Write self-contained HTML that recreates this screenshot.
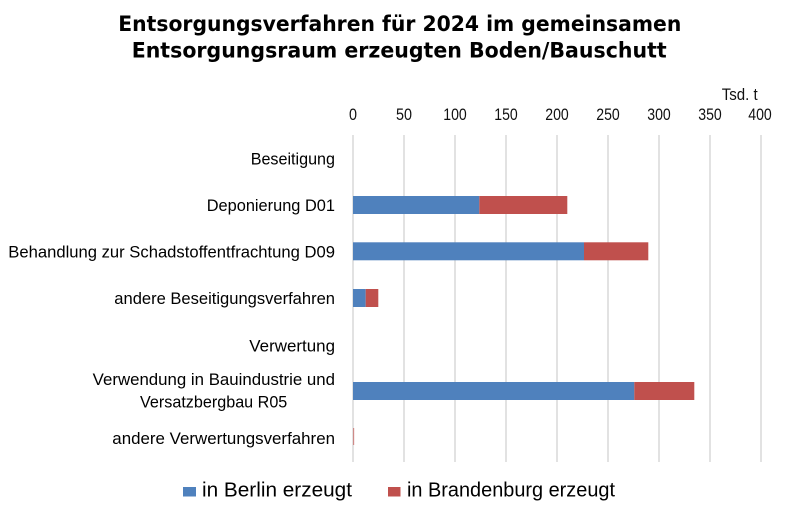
<!DOCTYPE html>
<html>
<head>
<meta charset="utf-8">
<style>
  html, body { margin:0; padding:0; background:#fff; }
  svg { display:block; }
</style>
</head>
<body>
<svg width="800" height="515" viewBox="0 0 800 515" xmlns="http://www.w3.org/2000/svg">
  <rect x="0" y="0" width="800" height="515" fill="#ffffff"/>

  <!-- Title -->
  <g font-family="'DejaVu Sans', 'Liberation Sans', sans-serif" font-weight="bold" font-size="21" fill="#000">
    <text x="118.3" y="31" textLength="563" lengthAdjust="spacingAndGlyphs">Entsorgungsverfahren für 2024 im gemeinsamen</text>
    <text x="131.7" y="57.7" textLength="535" lengthAdjust="spacingAndGlyphs">Entsorgungsraum erzeugten Boden/Bauschutt</text>
  </g>

  <!-- Gridlines -->
  <g stroke="#d9d9d9" stroke-width="1.5">
    <line x1="353" y1="135" x2="353" y2="462"/>
    <line x1="404" y1="135" x2="404" y2="462"/>
    <line x1="455" y1="135" x2="455" y2="462"/>
    <line x1="506" y1="135" x2="506" y2="462"/>
    <line x1="557" y1="135" x2="557" y2="462"/>
    <line x1="608" y1="135" x2="608" y2="462"/>
    <line x1="659" y1="135" x2="659" y2="462"/>
    <line x1="710" y1="135" x2="710" y2="462"/>
    <line x1="761" y1="135" x2="761" y2="462"/>
  </g>

  <!-- Tick labels -->
  <g font-family="'Liberation Sans', sans-serif" font-size="17" fill="#111" text-anchor="middle">
    <text x="353" y="120" textLength="8" lengthAdjust="spacingAndGlyphs">0</text>
    <text x="404" y="120" textLength="16" lengthAdjust="spacingAndGlyphs">50</text>
    <text x="455" y="120" textLength="23.5" lengthAdjust="spacingAndGlyphs">100</text>
    <text x="506" y="120" textLength="23.5" lengthAdjust="spacingAndGlyphs">150</text>
    <text x="557" y="120" textLength="23.5" lengthAdjust="spacingAndGlyphs">200</text>
    <text x="608" y="120" textLength="23.5" lengthAdjust="spacingAndGlyphs">250</text>
    <text x="659" y="120" textLength="23.5" lengthAdjust="spacingAndGlyphs">300</text>
    <text x="710" y="120" textLength="23.5" lengthAdjust="spacingAndGlyphs">350</text>
    <text x="760" y="120" textLength="23.5" lengthAdjust="spacingAndGlyphs">400</text>
  </g>
  <text x="721.7" y="100" font-family="'Liberation Sans', sans-serif" font-size="17" fill="#111" textLength="36" lengthAdjust="spacingAndGlyphs">Tsd. t</text>

  <!-- Category labels -->
  <g font-family="'Liberation Sans', sans-serif" font-size="16.5" fill="#000">
    <text x="250.7" y="164.3" textLength="84.3" lengthAdjust="spacingAndGlyphs">Beseitigung</text>
    <text x="206.7" y="211" textLength="128.3" lengthAdjust="spacingAndGlyphs">Deponierung D01</text>
    <text x="8.3" y="257.7" textLength="326.7" lengthAdjust="spacingAndGlyphs">Behandlung zur Schadstoffentfrachtung D09</text>
    <text x="114.3" y="304" textLength="220.7" lengthAdjust="spacingAndGlyphs">andere Beseitigungsverfahren</text>
    <text x="249.3" y="351.3" textLength="85.7" lengthAdjust="spacingAndGlyphs">Verwertung</text>
    <text x="92.7" y="385" textLength="242.3" lengthAdjust="spacingAndGlyphs">Verwendung in Bauindustrie und</text>
    <text x="140" y="407.7" textLength="147.3" lengthAdjust="spacingAndGlyphs">Versatzbergbau R05</text>
    <text x="112.3" y="444" textLength="222.7" lengthAdjust="spacingAndGlyphs">andere Verwertungsverfahren</text>
  </g>

  <!-- Bars -->
  <rect x="353" y="196" width="126.3" height="18" fill="#4f81bd"/>
  <rect x="479.3" y="196" width="88" height="18" fill="#c0504d"/>
  <rect x="353" y="242.3" width="231" height="18" fill="#4f81bd"/>
  <rect x="584" y="242.3" width="64.3" height="18" fill="#c0504d"/>
  <rect x="353" y="289" width="12.7" height="18" fill="#4f81bd"/>
  <rect x="365.7" y="289" width="12.6" height="18" fill="#c0504d"/>
  <rect x="353" y="382" width="281.3" height="18" fill="#4f81bd"/>
  <rect x="634.3" y="382" width="60" height="18" fill="#c0504d"/>
  <rect x="353" y="428" width="1.2" height="17" fill="#c0504d" opacity="0.6"/>

  <!-- Legend -->
  <rect x="183" y="487" width="13" height="9.5" fill="#4f81bd"/>
  <text x="202" y="496.7" font-family="'Liberation Sans', sans-serif" font-size="20.5" fill="#000" textLength="150" lengthAdjust="spacingAndGlyphs">in Berlin erzeugt</text>
  <rect x="388" y="487" width="12.5" height="9.5" fill="#c0504d"/>
  <text x="407" y="496.7" font-family="'Liberation Sans', sans-serif" font-size="20.5" fill="#000" textLength="208" lengthAdjust="spacingAndGlyphs">in Brandenburg erzeugt</text>
</svg>
</body>
</html>
